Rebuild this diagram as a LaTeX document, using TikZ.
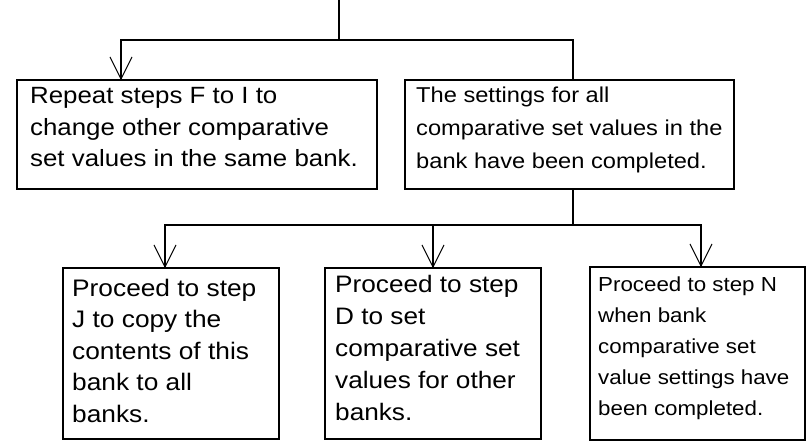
\documentclass[tikz,border=0pt]{standalone}
\usepackage{fontspec}
\setmainfont{Liberation Sans}
\newfontfamily\wfont{Liberation Sans}[FakeStretch=1.1]
\usetikzlibrary{calc}
\newcommand\vhead[1]{\draw[headline] ($(#1)+(-11,-22)$) -- (#1) -- ($(#1)+(11,-22)$);}
\begin{document}
\begin{tikzpicture}[x=1pt,y=-1pt,
  box/.style={draw, line width=2.2pt, rectangle, inner sep=0pt},
  conn/.style={line width=2pt},
  headline/.style={line width=1pt},
  txt/.style={anchor=north west, inner sep=0pt, align=left}]
\useasboundingbox[fill=white] (0,0) rectangle (807,441);
% boxes
\node[box, minimum width=360pt, minimum height=109pt] (A) at (197,134.5) {};
\node[box, minimum width=329pt, minimum height=109pt] (B) at (569.5,134.5) {};
\node[box, minimum width=216pt, minimum height=171pt] (C) at (171,353.5) {};
\node[box, minimum width=216pt, minimum height=171pt] (D) at (433,353.5) {};
\node[box, minimum width=215pt, minimum height=173pt] (E) at (697.5,353.5) {};
% texts
\node[txt, font=\wfont\fontsize{23.5pt}{31.5pt}\selectfont] (tA) at (30,87.2)
  {Repeat steps F to I to\\change other comparative\\set values in the same bank.};
\node[txt, font=\wfont\fontsize{21.5pt}{33pt}\selectfont] (tB) at (416,86.6)
  {The settings for all\\comparative set values in the\\bank have been completed.};
\node[txt, font=\wfont\fontsize{23.9pt}{31.5pt}\selectfont] (tC) at (72,278.9)
  {Proceed to step\\J to copy the\\contents of this\\bank to all\\banks.};
\node[txt, font=\wfont\fontsize{23.8pt}{32pt}\selectfont] (tD) at (335,275)
  {Proceed to step\\D to set\\comparative set\\values for other\\banks.};
\node[txt, font=\wfont\fontsize{20.3pt}{31pt}\selectfont] (tE) at (598,276.5)
  {Proceed to step N\\when bank\\comparative set\\value settings have\\been completed.};
% connector coordinates
\coordinate (top) at (339,0);
\coordinate (j1) at (339,40);
\coordinate (l1) at (121,40);
\coordinate (r1) at (573,40);
\coordinate (j2) at (573,225);
\coordinate (l2) at (165,225);
\coordinate (m2) at (433,225);
\coordinate (r2) at (701,225);
\coordinate (hA) at (l1 |- A.north);
\coordinate (hB) at (r1 |- B.north);
\coordinate (sB) at (j2 |- B.south);
\coordinate (hC) at (l2 |- C.north);
\coordinate (hD) at (m2 |- D.north);
\coordinate (hE) at (r2 |- E.north);
% connectors
\draw[conn] (top) -- (j1);
\draw[conn] (hA) -- (l1) -- (r1) -- (hB);
\draw[conn] (sB) -- (j2);
\draw[conn] (hC) -- (l2) -- (r2) -- (hE);
\draw[conn] (m2) -- (hD);
\vhead{hA}
\vhead{hC}
\vhead{hD}
\vhead{hE}
\end{tikzpicture}
\end{document}
